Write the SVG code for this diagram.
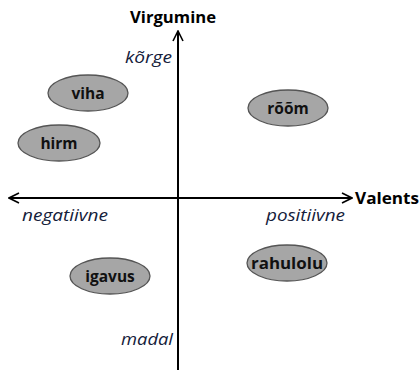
<svg xmlns="http://www.w3.org/2000/svg" width="419" height="372" viewBox="0 0 419 372">
<defs>
<marker id="arr" viewBox="0 0 12 12" refX="11" refY="6" markerWidth="12" markerHeight="12" markerUnits="userSpaceOnUse" orient="auto-start-reverse">
<path d="M1,1 L11,6 L1,11" fill="none" stroke="#000" stroke-width="1.6"/>
</marker>
<style>
.node ellipse{fill:#a6a6a6;stroke:#555;stroke-width:1.3}
.node text{font-family:"Open Sans","Liberation Sans",sans-serif;font-weight:bold;font-size:15.5px;fill:#111;text-anchor:middle}
.ax{font-family:"Open Sans","Liberation Sans",sans-serif;font-weight:bold;font-size:16px;fill:#000}
.lab{font-family:"Open Sans","Liberation Sans",sans-serif;font-style:italic;font-size:16px;fill:#14203a}
</style>
</defs>
<rect width="419" height="372" fill="#fff"/>
<g id="connectors">
<line x1="178" y1="370" x2="178" y2="31" stroke="#000" stroke-width="2" marker-end="url(#arr)"/>
<line x1="9" y1="198" x2="352" y2="198" stroke="#000" stroke-width="2" marker-start="url(#arr)" marker-end="url(#arr)"/>
</g>
<g id="labels">
<text class="ax" x="130" y="23" textLength="86" lengthAdjust="spacingAndGlyphs">Virgumine</text>
<text class="ax" x="355" y="204" textLength="64" lengthAdjust="spacingAndGlyphs">Valents</text>
<text class="lab" x="125" y="63" textLength="47" lengthAdjust="spacingAndGlyphs">kõrge</text>
<text class="lab" x="22" y="221" textLength="86" lengthAdjust="spacingAndGlyphs">negatiivne</text>
<text class="lab" x="266" y="221" textLength="79" lengthAdjust="spacingAndGlyphs">positiivne</text>
<text class="lab" x="121" y="345" textLength="52" lengthAdjust="spacingAndGlyphs">madal</text>
</g>
<g id="viha" class="node"><ellipse cx="88" cy="93" rx="40" ry="18"/><text x="88" y="99">viha</text></g>
<g id="hirm" class="node"><ellipse cx="59" cy="143" rx="41" ry="18"/><text x="59" y="149">hirm</text></g>
<g id="room" class="node"><ellipse cx="288" cy="108" rx="40" ry="18"/><text x="288" y="114">rõõm</text></g>
<g id="igavus" class="node"><ellipse cx="110" cy="276" rx="40" ry="18"/><text x="110" y="282">igavus</text></g>
<g id="rahulolu" class="node"><ellipse cx="287" cy="263" rx="40" ry="18"/><text x="287" y="269" textLength="72" lengthAdjust="spacingAndGlyphs">rahulolu</text></g>
</svg>
